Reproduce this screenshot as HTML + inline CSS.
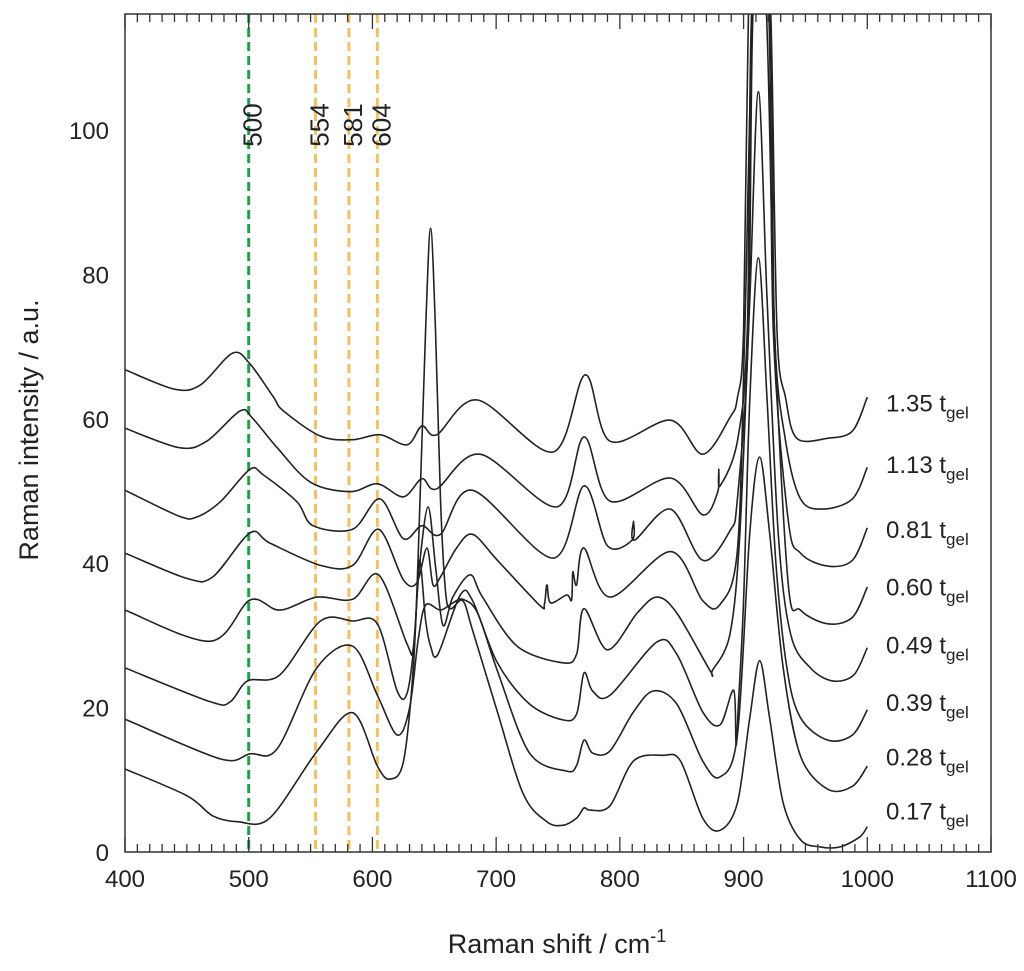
<!DOCTYPE html>
<html><head><meta charset="utf-8"><style>
body{margin:0;background:#fff;}
svg{display:block;font-family:"Liberation Sans",sans-serif;}
</style></head><body>
<svg id="chart" width="1024" height="971" viewBox="0 0 1024 971"></svg>
<script>
const xTicksMajor=[400,500,600,700,800,900,1000,1100];
const yTicks=[0,20,40,60,80,100];
const refLines=[500,554,581,604];
const refColors=["#1aa34a","#f5c060","#f5c060","#f5c060"];
const seriesLabels=["1.35","1.13","0.81","0.60","0.49","0.39","0.28","0.17"];
const labelY=[61,52.5,43.5,35.5,27.5,19.5,12,4.5];
const s135x=[400,440,461,487,501,520,528,558,584,606,628,640,652,685,746,772,792,841,867,889,895,900,904,910,916,922,927,934,943,968,988,1000];
const s135y=[66.8,64.1,64.7,69.1,67.6,63.0,61.1,57.6,57.1,57.8,56.4,59.0,57.8,62.6,55.4,66.1,56.9,59.8,55.1,60.2,62.9,72.3,116.6,130,130,116,72.3,62.9,57.3,57.3,58.3,63.0];
const s113x=[400,444,466,493,503,523,550,582,604,625,640,652,687,749,771,792,841,867,879,880,881,895,903,907,921,925,934,946,964,988,1000];
const s113y=[58.7,56.0,56.9,61.1,60.1,56.0,51.2,49.9,51.0,49.2,51.7,50.3,55.1,47.8,57.5,48.6,51.8,46.7,49.8,53.0,50.7,56.9,72.3,118,118,72.3,56.9,48.9,47.5,48.9,53.3];
const s081x=[400,444,458,477,501,512,539,552,584,606,625,640,655,681,746,771,790,810,811,812,841,867,889,895,904,908,920,924,936,946,968,988,1000];
const s081y=[50.1,46.5,46.4,48.5,53.0,52.2,48.5,45.2,44.7,48.9,43.4,45.2,44.0,50.1,40.7,50.7,42.4,43.2,45.8,43.2,47.5,40.4,44.5,48.9,72.3,118,118,72.3,46.1,41.4,39.6,40.4,44.9];
const s060x=[400,450,471,501,517,558,584,605,625,636,644,649,655,668,681,701,735,739,741,744,757,761,762,765,771,792,841,867,881,895,901,908,918,925,936,946,968,988,1000];
const s060y=[41.4,37.9,38.1,44.2,42.8,39.7,39.7,44.7,37.7,37.3,42.1,37.0,38.1,42.1,44.0,40.4,34.2,34.3,37.0,34.5,35.6,34.9,38.8,37.0,42.1,35.3,41.6,34.8,34.3,41.8,72.3,118,118,72.3,37.3,33.5,31.6,32.5,36.7];
const s049x=[400,469,501,525,555,584,605,628,633,638,645,651,657,665,679,689,717,754,765,771,790,814,830,846,873,875,889,897,905,912,919,928,938,954,972,989,1000];
const s049y=[33.5,29.2,34.9,33.5,35.3,35.0,38.4,28.8,28.3,39.6,47.8,39.6,31.4,35.3,38.4,35.3,28.5,26.2,27.4,33.7,28.0,33.1,35.3,33.1,25.1,25.2,30.2,44.2,76.5,105.3,76.5,44.2,30.2,25.5,23.7,24.5,28.3];
const s039x=[400,469,485,499,525,558,584,604,620,628,634,638,643,647,653,671,681,701,727,754,765,771,778,792,830,846,867,881,892,894,896,900,905,912,919,926,935,946,968,988,1000];
const s039y=[25.5,20.8,20.8,23.7,24.5,32.0,32.0,31.6,22.3,22.0,29.4,40.4,32.1,28.5,27.4,35.6,34.8,26.2,20.5,18.3,19.1,24.8,22.3,21.7,29.1,27.4,19.4,17.6,22.4,14.8,21.0,34.9,62.6,82.3,62.6,40.4,25.5,18.6,15.5,16.2,19.7];
const s028x=[400,477,501,523,555,584,604,620,630,637,643,655,665,673,685,701,727,757,765,771,778,792,811,827,846,867,881,895,905,913,921,932,946,968,988,1000];
const s028y=[18.4,12.9,13.6,14.3,25.5,28.5,21.7,16.2,19.9,29.4,34.2,33.5,34.5,35.0,33.1,25.1,13.7,11.2,12.0,15.5,13.7,14.0,19.4,22.3,20.5,12.6,10.4,16.2,44.2,54.7,44.2,25.5,13.3,8.7,9.1,11.9];
const s017x=[400,450,471,491,517,555,584,604,614,625,633,637,643,647,651,655,659,663,673,681,701,722,741,754,765,771,776,792,811,835,849,867,881,895,905,913,921,932,946,962,978,994,1000];
const s017y=[11.5,7.8,5.0,4.2,4.7,13.9,19.3,11.9,10.1,12.5,25.5,41.1,72.3,86.4,72.3,48.8,36.3,33.7,34.8,30.7,19.4,8.0,4.2,3.7,4.7,6.1,5.8,6.4,12.6,13.4,12.6,4.7,3.0,6.8,18.6,26.5,18.6,6.8,1.7,0.7,0.7,2.1,3.5];
const seriesX=[s135x,s113x,s081x,s060x,s049x,s039x,s028x,s017x];
const seriesY=[s135y,s113y,s081y,s060y,s049y,s039y,s028y,s017y];

const L=125,R=991,T=14,B=852;
const xScale=v=>L+(v-400)*(R-L)/700;
const yScale=v=>B-v*7.22;
const NS="http://www.w3.org/2000/svg";
const svg=document.getElementById('chart');
function mk(tag,attrs,parent){const e=document.createElementNS(NS,tag);for(const k in attrs)e.setAttribute(k,attrs[k]);(parent||svg).appendChild(e);return e;}
function smoothPath(pts){
  let d='M'+pts[0][0].toFixed(1)+','+pts[0][1].toFixed(1);
  for(let i=0;i<pts.length-1;i++){
    const p0=pts[Math.max(0,i-1)],p1=pts[i],p2=pts[i+1],p3=pts[Math.min(pts.length-1,i+2)];
    const k=0.16;
    const c1=[p1[0]+(p2[0]-p0[0])*k,p1[1]+(p2[1]-p0[1])*k];
    const c2=[p2[0]-(p3[0]-p1[0])*k,p2[1]-(p3[1]-p1[1])*k];
    d+=' C'+c1[0].toFixed(1)+','+c1[1].toFixed(1)+' '+c2[0].toFixed(1)+','+c2[1].toFixed(1)+' '+p2[0].toFixed(1)+','+p2[1].toFixed(1);
  }
  return d;
}

const defs=mk('defs',{});
const cp=mk('clipPath',{id:'plotclip'},defs);
mk('rect',{x:L,y:T,width:R-L,height:B-T},cp);

refLines.forEach((v,i)=>{
  const ln=mk('line',{x1:xScale(v),x2:xScale(v),y1:T,y2:B,stroke:refColors[i],'stroke-width':3,'stroke-dasharray':'9,5'});
  
  
  const t=mk('text',{transform:`translate(${xScale(v)+13},125) rotate(-90)`,'text-anchor':'middle','font-size':26,fill:'#222'});
  t.textContent=v;
  
  
});

const g=mk('g',{'clip-path':'url(#plotclip)'});
seriesX.forEach((xs,i)=>{
  const pts=xs.map((x,j)=>[xScale(x),yScale(seriesY[i][j])]);
  const p=mk('path',{d:smoothPath(pts),fill:'none',stroke:'#222','stroke-width':1.6,'stroke-linejoin':'round'},g);
  
  
  const t=mk('text',{x:886,y:yScale(labelY[i]),'font-size':24,fill:'#222'});
  t.innerHTML=seriesLabels[i]+' t<tspan font-size="17" dy="7">gel</tspan>';
  
  
});

const fr=mk('rect',{x:L,y:T,width:R-L,height:B-T,fill:'none',stroke:'#333','stroke-width':1.5});



for(let v=400;v<=1100;v+=10){
  const major=v%100===0;const len=major?15:8;const x=xScale(v);
  mk('line',{x1:x,x2:x,y1:B,y2:B-len,stroke:'#333','stroke-width':1.3});
  mk('line',{x1:x,x2:x,y1:T,y2:T+len,stroke:'#333','stroke-width':1.3});
}
xTicksMajor.forEach(v=>{
  const t=mk('text',{x:xScale(v),y:887,'text-anchor':'middle','font-size':24,fill:'#222'});
  t.textContent=v;
  
  
});
yTicks.forEach(v=>{
  const t=mk('text',{x:109,y:yScale(v)+9,'text-anchor':'end','font-size':24,fill:'#222'});
  t.textContent=v;
  
  
});
const xt=mk('text',{x:557,y:953,'text-anchor':'middle','font-size':27,fill:'#222'});
xt.innerHTML='Raman shift / cm<tspan font-size="18" dy="-11">-1</tspan>';


const yt=mk('text',{transform:'translate(38,430) rotate(-90)','text-anchor':'middle','font-size':27,fill:'#222'});
yt.textContent='Raman intensity / a.u.';


</script>
</body></html>
